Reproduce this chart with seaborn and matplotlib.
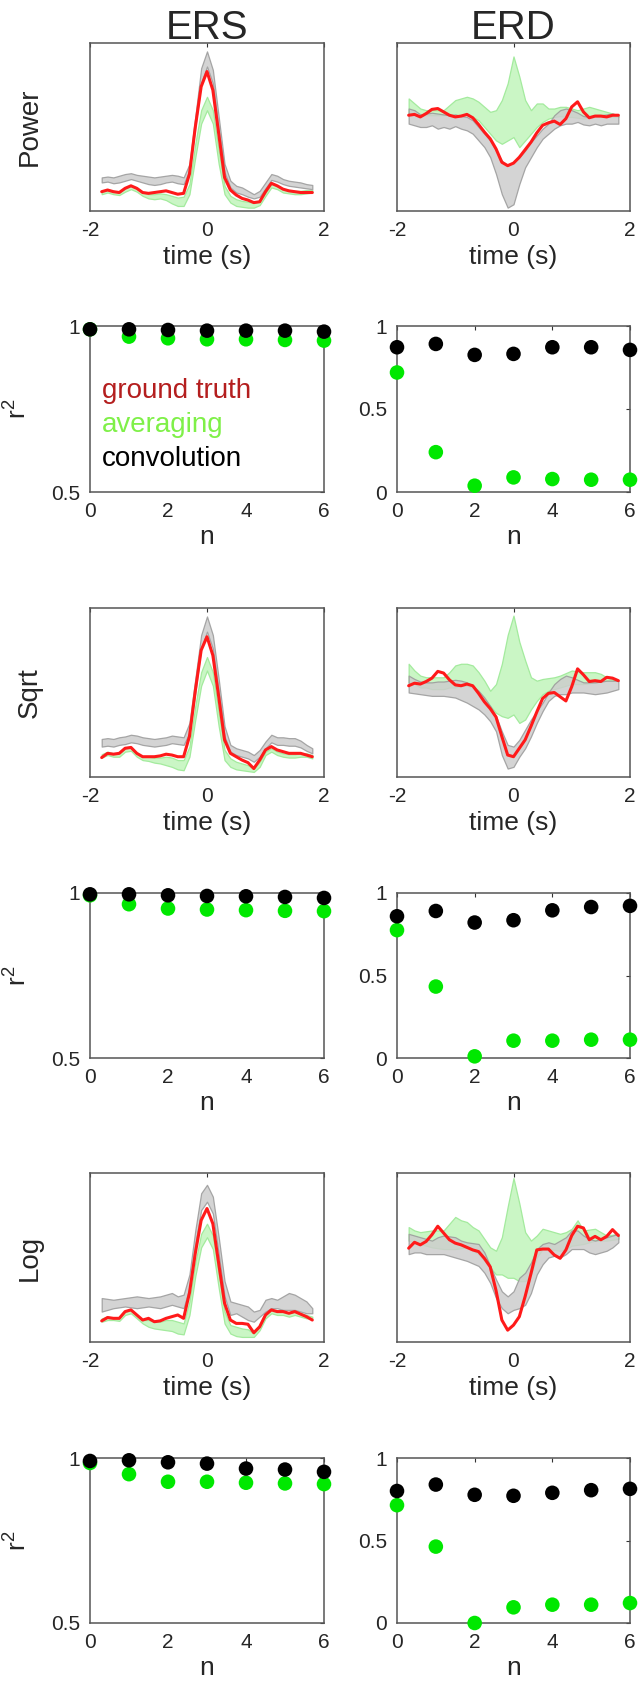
import numpy as np
import pandas as pd
import seaborn as sns
import matplotlib
matplotlib.use("Agg")
import matplotlib.pyplot as plt

sns.set_style("white")
plt.rcParams['font.family'] = ['Liberation Sans', 'DejaVu Sans']
plt.rcParams['mathtext.fontset'] = 'custom'
plt.rcParams['mathtext.rm'] = 'Liberation Sans'
plt.rcParams['mathtext.it'] = 'Liberation Sans'

# --- time axis (s) shared by all time-course panels ---
t = [-1.8, -1.7, -1.6, -1.5, -1.4, -1.3, -1.2, -1.1, -1.0, -0.9, -0.8, -0.7, -0.6, -0.5, -0.4,
     -0.3, -0.2, -0.1, 0.0, 0.1, 0.2, 0.3,
     0.4, 0.5, 0.6, 0.7, 0.8, 0.9, 1.0, 1.1, 1.2, 1.3, 1.4, 1.5, 1.6, 1.7, 1.8]

# --- Power, ERS ---
power_ers_truth = [0.115, 0.125, 0.115, 0.11, 0.135, 0.15, 0.135, 0.11, 0.105, 0.11, 0.115, 0.12, 0.11, 0.10, 0.105,
                   0.22, 0.50, 0.74, 0.83, 0.72, 0.46, 0.20,
                   0.125, 0.095, 0.075, 0.065, 0.05, 0.055, 0.115, 0.165, 0.15, 0.13, 0.12, 0.115, 0.11, 0.11, 0.11]
power_ers_conv_hi = [0.20, 0.205, 0.20, 0.21, 0.22, 0.225, 0.215, 0.21, 0.205, 0.20, 0.205, 0.21, 0.215, 0.21, 0.20,
                     0.28, 0.56, 0.85, 0.95, 0.84, 0.56, 0.28,
                     0.18, 0.15, 0.14, 0.12, 0.10, 0.12, 0.17, 0.22, 0.21, 0.19, 0.18, 0.175, 0.17, 0.16, 0.155]
power_ers_conv_lo = [0.17, 0.175, 0.165, 0.17, 0.18, 0.19, 0.18, 0.17, 0.16, 0.155, 0.16, 0.17, 0.175, 0.165, 0.16,
                     0.24, 0.50, 0.76, 0.86, 0.76, 0.48, 0.23,
                     0.14, 0.11, 0.10, 0.085, 0.075, 0.085, 0.135, 0.185, 0.175, 0.16, 0.15, 0.145, 0.14, 0.135, 0.13]
power_ers_avg_hi = [0.12, 0.125, 0.12, 0.11, 0.135, 0.15, 0.135, 0.11, 0.10, 0.10, 0.105, 0.10, 0.09, 0.08, 0.085,
                    0.16, 0.40, 0.60, 0.68, 0.60, 0.36, 0.15,
                    0.09, 0.07, 0.06, 0.055, 0.05, 0.055, 0.11, 0.16, 0.15, 0.13, 0.125, 0.12, 0.12, 0.125, 0.125]
power_ers_avg_lo = [0.10, 0.11, 0.10, 0.095, 0.115, 0.13, 0.115, 0.09, 0.075, 0.07, 0.075, 0.065, 0.045, 0.03, 0.03,
                    0.10, 0.32, 0.52, 0.60, 0.52, 0.28, 0.10,
                    0.05, 0.03, 0.025, 0.02, 0.02, 0.035, 0.09, 0.14, 0.13, 0.11, 0.105, 0.10, 0.10, 0.105, 0.11]

# --- Power, ERD ---
power_erd_truth = [0.57, 0.575, 0.56, 0.58, 0.605, 0.61, 0.59, 0.57, 0.56, 0.565, 0.575, 0.555, 0.515, 0.47, 0.43,
                   0.37, 0.29, 0.27, 0.285, 0.32, 0.365, 0.41,
                   0.465, 0.51, 0.525, 0.535, 0.515, 0.55, 0.62, 0.65, 0.59, 0.555, 0.565, 0.565, 0.56, 0.57, 0.57]
power_erd_conv_hi = [0.61, 0.60, 0.575, 0.58, 0.585, 0.58, 0.575, 0.57, 0.575, 0.565, 0.56, 0.54, 0.50, 0.46, 0.42,
                     0.36, 0.30, 0.27, 0.29, 0.32, 0.36, 0.41,
                     0.45, 0.49, 0.52, 0.57, 0.60, 0.61, 0.60, 0.585, 0.565, 0.56, 0.57, 0.57, 0.575, 0.58, 0.57]
power_erd_conv_lo = [0.52, 0.51, 0.50, 0.50, 0.51, 0.49, 0.50, 0.49, 0.505, 0.49, 0.48, 0.46, 0.42, 0.38, 0.32,
                     0.22, 0.10, 0.02, 0.04, 0.16, 0.26, 0.32,
                     0.38, 0.43, 0.46, 0.49, 0.51, 0.52, 0.52, 0.53, 0.515, 0.51, 0.52, 0.51, 0.52, 0.52, 0.52]
power_erd_avg_hi = [0.67, 0.64, 0.61, 0.60, 0.60, 0.60, 0.60, 0.63, 0.66, 0.67, 0.68, 0.67, 0.65, 0.62, 0.59,
                    0.60, 0.66, 0.76, 0.92, 0.80, 0.66, 0.60,
                    0.64, 0.64, 0.61, 0.61, 0.62, 0.62, 0.61, 0.60, 0.61, 0.62, 0.61, 0.60, 0.59, 0.58, 0.57]
power_erd_avg_lo = [0.58, 0.575, 0.57, 0.57, 0.57, 0.57, 0.57, 0.57, 0.57, 0.57, 0.57, 0.56, 0.54, 0.50, 0.46,
                    0.42, 0.40, 0.42, 0.44, 0.38, 0.42, 0.46,
                    0.50, 0.53, 0.55, 0.56, 0.565, 0.56, 0.56, 0.555, 0.55, 0.555, 0.56, 0.56, 0.56, 0.56, 0.56]

# --- Sqrt, ERS ---
sqrt_ers_truth = [0.115, 0.14, 0.135, 0.14, 0.17, 0.175, 0.14, 0.12, 0.12, 0.12, 0.125, 0.135, 0.13, 0.12, 0.12,
                  0.24, 0.51, 0.75, 0.83, 0.72, 0.475, 0.22,
                  0.14, 0.12, 0.10, 0.085, 0.05, 0.10, 0.16, 0.18, 0.16, 0.15, 0.14, 0.14, 0.14, 0.13, 0.12]
sqrt_ers_conv_hi = [0.225, 0.23, 0.225, 0.235, 0.24, 0.25, 0.245, 0.235, 0.23, 0.225, 0.23, 0.235, 0.245, 0.24, 0.235,
                    0.32, 0.58, 0.84, 0.95, 0.84, 0.58, 0.30,
                    0.19, 0.17, 0.16, 0.15, 0.13, 0.16, 0.21, 0.25, 0.235, 0.235, 0.23, 0.23, 0.215, 0.19, 0.17]
sqrt_ers_conv_lo = [0.18, 0.185, 0.18, 0.19, 0.195, 0.205, 0.20, 0.19, 0.185, 0.18, 0.185, 0.19, 0.20, 0.195, 0.19,
                    0.26, 0.50, 0.76, 0.86, 0.76, 0.50, 0.24,
                    0.15, 0.13, 0.12, 0.11, 0.09, 0.12, 0.17, 0.205, 0.19, 0.19, 0.185, 0.185, 0.175, 0.155, 0.14]
sqrt_ers_avg_hi = [0.135, 0.15, 0.14, 0.14, 0.17, 0.175, 0.14, 0.12, 0.12, 0.115, 0.115, 0.12, 0.115, 0.10, 0.10,
                   0.18, 0.42, 0.62, 0.71, 0.62, 0.38, 0.16,
                   0.11, 0.09, 0.08, 0.07, 0.05, 0.09, 0.15, 0.17, 0.15, 0.14, 0.135, 0.135, 0.14, 0.14, 0.13]
sqrt_ers_avg_lo = [0.115, 0.13, 0.12, 0.12, 0.15, 0.155, 0.12, 0.10, 0.095, 0.085, 0.08, 0.07, 0.06, 0.045, 0.04,
                   0.12, 0.34, 0.54, 0.63, 0.54, 0.30, 0.10,
                   0.06, 0.045, 0.04, 0.035, 0.03, 0.06, 0.13, 0.15, 0.13, 0.12, 0.115, 0.115, 0.12, 0.12, 0.11]

# --- Sqrt, ERD ---
sqrt_erd_truth = [0.54, 0.555, 0.55, 0.565, 0.585, 0.625, 0.615, 0.575, 0.545, 0.54, 0.55, 0.54, 0.495, 0.445, 0.405,
                  0.355, 0.24, 0.13, 0.12, 0.17, 0.22, 0.30,
                  0.385, 0.465, 0.495, 0.50, 0.475, 0.45, 0.535, 0.64, 0.605, 0.565, 0.57, 0.565, 0.59, 0.585, 0.57]
sqrt_erd_conv_hi = [0.60, 0.58, 0.565, 0.56, 0.56, 0.565, 0.565, 0.57, 0.575, 0.57, 0.56, 0.54, 0.51, 0.47, 0.42,
                    0.36, 0.27, 0.19, 0.18, 0.22, 0.28, 0.34,
                    0.39, 0.44, 0.50, 0.55, 0.58, 0.60, 0.59, 0.575, 0.56, 0.56, 0.56, 0.565, 0.57, 0.57, 0.57]
sqrt_erd_conv_lo = [0.50, 0.495, 0.49, 0.485, 0.48, 0.48, 0.48, 0.475, 0.47, 0.455, 0.44, 0.42, 0.40, 0.37, 0.33,
                    0.27, 0.13, 0.05, 0.06, 0.12, 0.17, 0.24,
                    0.32, 0.39, 0.45, 0.48, 0.49, 0.49, 0.50, 0.50, 0.50, 0.495, 0.49, 0.495, 0.50, 0.51, 0.52]
sqrt_erd_avg_hi = [0.67, 0.63, 0.60, 0.59, 0.59, 0.59, 0.59, 0.62, 0.66, 0.67, 0.67, 0.66, 0.62, 0.57, 0.51,
                   0.55, 0.67, 0.84, 0.955, 0.80, 0.69, 0.59,
                   0.57, 0.58, 0.585, 0.59, 0.60, 0.615, 0.63, 0.625, 0.62, 0.62, 0.62, 0.61, 0.59, 0.58, 0.57]
sqrt_erd_avg_lo = [0.56, 0.55, 0.53, 0.53, 0.52, 0.52, 0.52, 0.53, 0.53, 0.54, 0.54, 0.53, 0.50, 0.46, 0.42,
                   0.38, 0.36, 0.35, 0.37, 0.32, 0.34, 0.40,
                   0.45, 0.49, 0.51, 0.52, 0.53, 0.54, 0.55, 0.55, 0.55, 0.555, 0.56, 0.565, 0.57, 0.57, 0.57]

# --- Log, ERS ---
log_ers_truth = [0.125, 0.145, 0.14, 0.14, 0.18, 0.19, 0.16, 0.13, 0.14, 0.12, 0.125, 0.14, 0.15, 0.16, 0.14,
                 0.29, 0.525, 0.72, 0.79, 0.70, 0.465, 0.23,
                 0.13, 0.11, 0.11, 0.105, 0.055, 0.09, 0.16, 0.19, 0.18, 0.18, 0.17, 0.18, 0.165, 0.15, 0.13]
log_ers_conv_hi = [0.26, 0.255, 0.25, 0.255, 0.26, 0.265, 0.27, 0.265, 0.26, 0.265, 0.27, 0.28, 0.29, 0.27, 0.28,
                   0.40, 0.66, 0.88, 0.93, 0.86, 0.62, 0.36,
                   0.24, 0.23, 0.22, 0.21, 0.18, 0.19, 0.25, 0.26, 0.25, 0.27, 0.29, 0.28, 0.26, 0.24, 0.20]
log_ers_conv_lo = [0.18, 0.19, 0.20, 0.205, 0.21, 0.205, 0.20, 0.205, 0.21, 0.205, 0.20, 0.21, 0.22, 0.21, 0.20,
                   0.32, 0.58, 0.78, 0.83, 0.76, 0.52, 0.27,
                   0.16, 0.17, 0.15, 0.13, 0.12, 0.15, 0.18, 0.20, 0.20, 0.19, 0.19, 0.19, 0.18, 0.17, 0.17]
log_ers_avg_hi = [0.14, 0.15, 0.145, 0.145, 0.18, 0.19, 0.16, 0.13, 0.13, 0.12, 0.12, 0.13, 0.13, 0.12, 0.11,
                  0.24, 0.47, 0.64, 0.70, 0.63, 0.40, 0.18,
                  0.10, 0.09, 0.08, 0.075, 0.05, 0.09, 0.16, 0.19, 0.18, 0.18, 0.17, 0.18, 0.17, 0.16, 0.15]
log_ers_avg_lo = [0.12, 0.13, 0.13, 0.125, 0.16, 0.17, 0.14, 0.11, 0.09, 0.08, 0.075, 0.07, 0.065, 0.05, 0.045,
                  0.16, 0.39, 0.56, 0.62, 0.55, 0.32, 0.11,
                  0.05, 0.035, 0.03, 0.03, 0.03, 0.07, 0.14, 0.17, 0.16, 0.16, 0.15, 0.16, 0.15, 0.14, 0.14]

# --- Log, ERD ---
log_erd_truth = [0.555, 0.59, 0.575, 0.595, 0.635, 0.685, 0.645, 0.605, 0.585, 0.575, 0.56, 0.545, 0.535, 0.495, 0.445,
                 0.305, 0.13, 0.07, 0.10, 0.15, 0.27, 0.405,
                 0.545, 0.55, 0.55, 0.515, 0.495, 0.545, 0.63, 0.685, 0.675, 0.605, 0.625, 0.605, 0.625, 0.665, 0.63]
log_erd_conv_hi = [0.64, 0.63, 0.62, 0.61, 0.60, 0.62, 0.63, 0.625, 0.62, 0.60, 0.59, 0.585, 0.58, 0.53, 0.45,
                   0.37, 0.30, 0.27, 0.30, 0.38, 0.41, 0.47,
                   0.55, 0.58, 0.59, 0.58, 0.60, 0.62, 0.66, 0.66, 0.63, 0.61, 0.60, 0.61, 0.62, 0.63, 0.64]
log_erd_conv_lo = [0.52, 0.53, 0.53, 0.52, 0.52, 0.52, 0.52, 0.51, 0.50, 0.49, 0.48, 0.465, 0.45, 0.41, 0.35,
                   0.26, 0.20, 0.17, 0.19, 0.20, 0.22, 0.29,
                   0.40, 0.46, 0.50, 0.51, 0.50, 0.52, 0.55, 0.55, 0.55, 0.53, 0.52, 0.53, 0.54, 0.56, 0.59]
log_erd_avg_hi = [0.68, 0.66, 0.65, 0.655, 0.66, 0.66, 0.66, 0.70, 0.74, 0.72, 0.71, 0.68, 0.66, 0.61, 0.56,
                  0.54, 0.62, 0.80, 0.97, 0.82, 0.65, 0.60,
                  0.63, 0.67, 0.66, 0.65, 0.64, 0.65, 0.67, 0.72, 0.66, 0.665, 0.67, 0.65, 0.63, 0.635, 0.64]
log_erd_avg_lo = [0.60, 0.59, 0.58, 0.57, 0.56, 0.555, 0.55, 0.55, 0.55, 0.555, 0.56, 0.54, 0.52, 0.48, 0.44,
                  0.40, 0.40, 0.38, 0.38, 0.36, 0.36, 0.40,
                  0.50, 0.55, 0.55, 0.545, 0.54, 0.55, 0.57, 0.575, 0.58, 0.59, 0.60, 0.60, 0.60, 0.605, 0.61]

# --- r2 vs n ---
n = [0, 1, 2, 3, 4, 5, 6]
power_ers_r2_avg = [0.99, 0.968, 0.963, 0.96, 0.96, 0.958, 0.956]
power_ers_r2_conv = [0.99, 0.99, 0.988, 0.986, 0.986, 0.986, 0.983]
power_erd_r2_avg = [0.72, 0.24, 0.038, 0.088, 0.078, 0.074, 0.074]
power_erd_r2_conv = [0.872, 0.892, 0.826, 0.832, 0.872, 0.872, 0.856]
sqrt_ers_r2_avg = [0.993, 0.966, 0.953, 0.95, 0.948, 0.946, 0.945]
sqrt_ers_r2_conv = [0.996, 0.996, 0.993, 0.991, 0.99, 0.988, 0.985]
sqrt_erd_r2_avg = [0.775, 0.433, 0.01, 0.105, 0.105, 0.111, 0.111]
sqrt_erd_r2_conv = [0.859, 0.891, 0.821, 0.835, 0.895, 0.915, 0.922]
log_ers_r2_avg = [0.985, 0.951, 0.928, 0.928, 0.925, 0.923, 0.921]
log_ers_r2_conv = [0.991, 0.993, 0.987, 0.983, 0.968, 0.965, 0.958]
log_erd_r2_avg = [0.714, 0.463, 0.0, 0.095, 0.111, 0.111, 0.121]
log_erd_r2_conv = [0.80, 0.839, 0.777, 0.771, 0.789, 0.805, 0.813]

row_names = ["Power", "Sqrt", "Log"]
col_names = ["ERS", "ERD"]
legend_labels = ["ground truth", "averaging", "convolution"]

RED = "#ff1a1a"
DOT_GREEN = "#00e800"
legend_colors = ["#b41e1e", "#7ff048", "black"]

W, H = 641, 1688
fig = plt.figure(figsize=(W / 100, H / 100), dpi=100)


def rect(x0, x1, y0, y1):
    return [x0 / W, 1 - y1 / H, (x1 - x0) / W, (y1 - y0) / H]


col_x = [(90, 324), (397, 630)]
row_y = [(43, 211), (326, 492), (608, 777), (893, 1058), (1173, 1342), (1458, 1623)]


def style_axes(ax):
    for s in ax.spines.values():
        s.set_visible(True)
        s.set_color("#555555")
        s.set_linewidth(1.1)
    ax.tick_params(direction="in", length=3, width=0.8, color="#333333",
                   top=True, right=True, labelsize=15, pad=7)


def time_panel(ax, truth, avg_lo, avg_hi, conv_lo, conv_hi):
    ax.fill_between(t, avg_lo, avg_hi, facecolor="#c8f6c2", edgecolor="#a0ea9a",
                    linewidth=0.9, alpha=0.95)
    ax.fill_between(t, conv_lo, conv_hi, facecolor="#cdcdcd", edgecolor="#999999",
                    linewidth=0.9, alpha=0.85)
    sns.lineplot(x=t, y=truth, ax=ax, color=RED, linewidth=2.2)
    ax.set_xlim(-2, 2)
    ax.set_ylim(0, 1)
    ax.set_xticks([-2, 0, 2])
    ax.set_xticklabels(["-2", "0", "2"])
    ax.set_yticks([])
    ax.set_ylabel("")
    ax.set_xlabel("time (s)", fontsize=19)
    ax.xaxis.set_label_coords(0.5, -0.2)
    style_axes(ax)


def r2_panel(ax, avg, conv, ers):
    df = pd.DataFrame({"n": n + n, "r2": avg + conv,
                       "method": ["averaging"] * 7 + ["convolution"] * 7})
    sns.scatterplot(data=df, x="n", y="r2", hue="method",
                    palette={"averaging": DOT_GREEN, "convolution": "black"},
                    s=110, linewidth=0, legend=False, ax=ax, clip_on=False, zorder=3)
    ax.set_xlim(0, 6)
    ax.set_xticks([0, 2, 4, 6])
    if ers:
        ax.set_ylim(0.5, 1)
        ax.set_yticks([0.5, 1])
        ax.set_yticklabels(["0.5", "1"])
        ax.set_ylabel("r$^2$", fontsize=19)
        ax.yaxis.set_label_coords(-0.25, 0.5)
    else:
        ax.set_ylim(0, 1)
        ax.set_yticks([0, 0.5, 1])
        ax.set_yticklabels(["0", "0.5", "1"])
        ax.set_ylabel("")
    ax.set_xlabel("n", fontsize=19)
    ax.xaxis.set_label_coords(0.5, -0.2)
    style_axes(ax)


series = {
    ("Power", "ERS"): (power_ers_truth, power_ers_avg_lo, power_ers_avg_hi, power_ers_conv_lo, power_ers_conv_hi,
                       power_ers_r2_avg, power_ers_r2_conv),
    ("Power", "ERD"): (power_erd_truth, power_erd_avg_lo, power_erd_avg_hi, power_erd_conv_lo, power_erd_conv_hi,
                       power_erd_r2_avg, power_erd_r2_conv),
    ("Sqrt", "ERS"): (sqrt_ers_truth, sqrt_ers_avg_lo, sqrt_ers_avg_hi, sqrt_ers_conv_lo, sqrt_ers_conv_hi,
                      sqrt_ers_r2_avg, sqrt_ers_r2_conv),
    ("Sqrt", "ERD"): (sqrt_erd_truth, sqrt_erd_avg_lo, sqrt_erd_avg_hi, sqrt_erd_conv_lo, sqrt_erd_conv_hi,
                      sqrt_erd_r2_avg, sqrt_erd_r2_conv),
    ("Log", "ERS"): (log_ers_truth, log_ers_avg_lo, log_ers_avg_hi, log_ers_conv_lo, log_ers_conv_hi,
                     log_ers_r2_avg, log_ers_r2_conv),
    ("Log", "ERD"): (log_erd_truth, log_erd_avg_lo, log_erd_avg_hi, log_erd_conv_lo, log_erd_conv_hi,
                     log_erd_r2_avg, log_erd_r2_conv),
}

for i, row in enumerate(row_names):
    for j, col in enumerate(col_names):
        truth, alo, ahi, clo, chi, r_avg, r_conv = series[(row, col)]
        x0, x1 = col_x[j]
        ax_t = fig.add_axes(rect(x0, x1, *row_y[2 * i]))
        time_panel(ax_t, truth, alo, ahi, clo, chi)
        if j == 0:
            ax_t.set_ylabel(row, fontsize=20)
            ax_t.yaxis.set_label_coords(-0.2, 0.5)
        if i == 0:
            ax_t.set_title(col, fontsize=29, pad=3)

        ax_r = fig.add_axes(rect(x0, x1, *row_y[2 * i + 1]))
        r2_panel(ax_r, r_avg, r_conv, col == "ERS")
        if i == 0 and j == 0:
            for label, color, yy in zip(legend_labels, legend_colors, [0.564, 0.363, 0.157]):
                ax_r.text(0.05, yy, label, color=color, fontsize=20,
                          transform=ax_r.transAxes, va="baseline", ha="left")

fig.savefig("out.png", dpi=100)
